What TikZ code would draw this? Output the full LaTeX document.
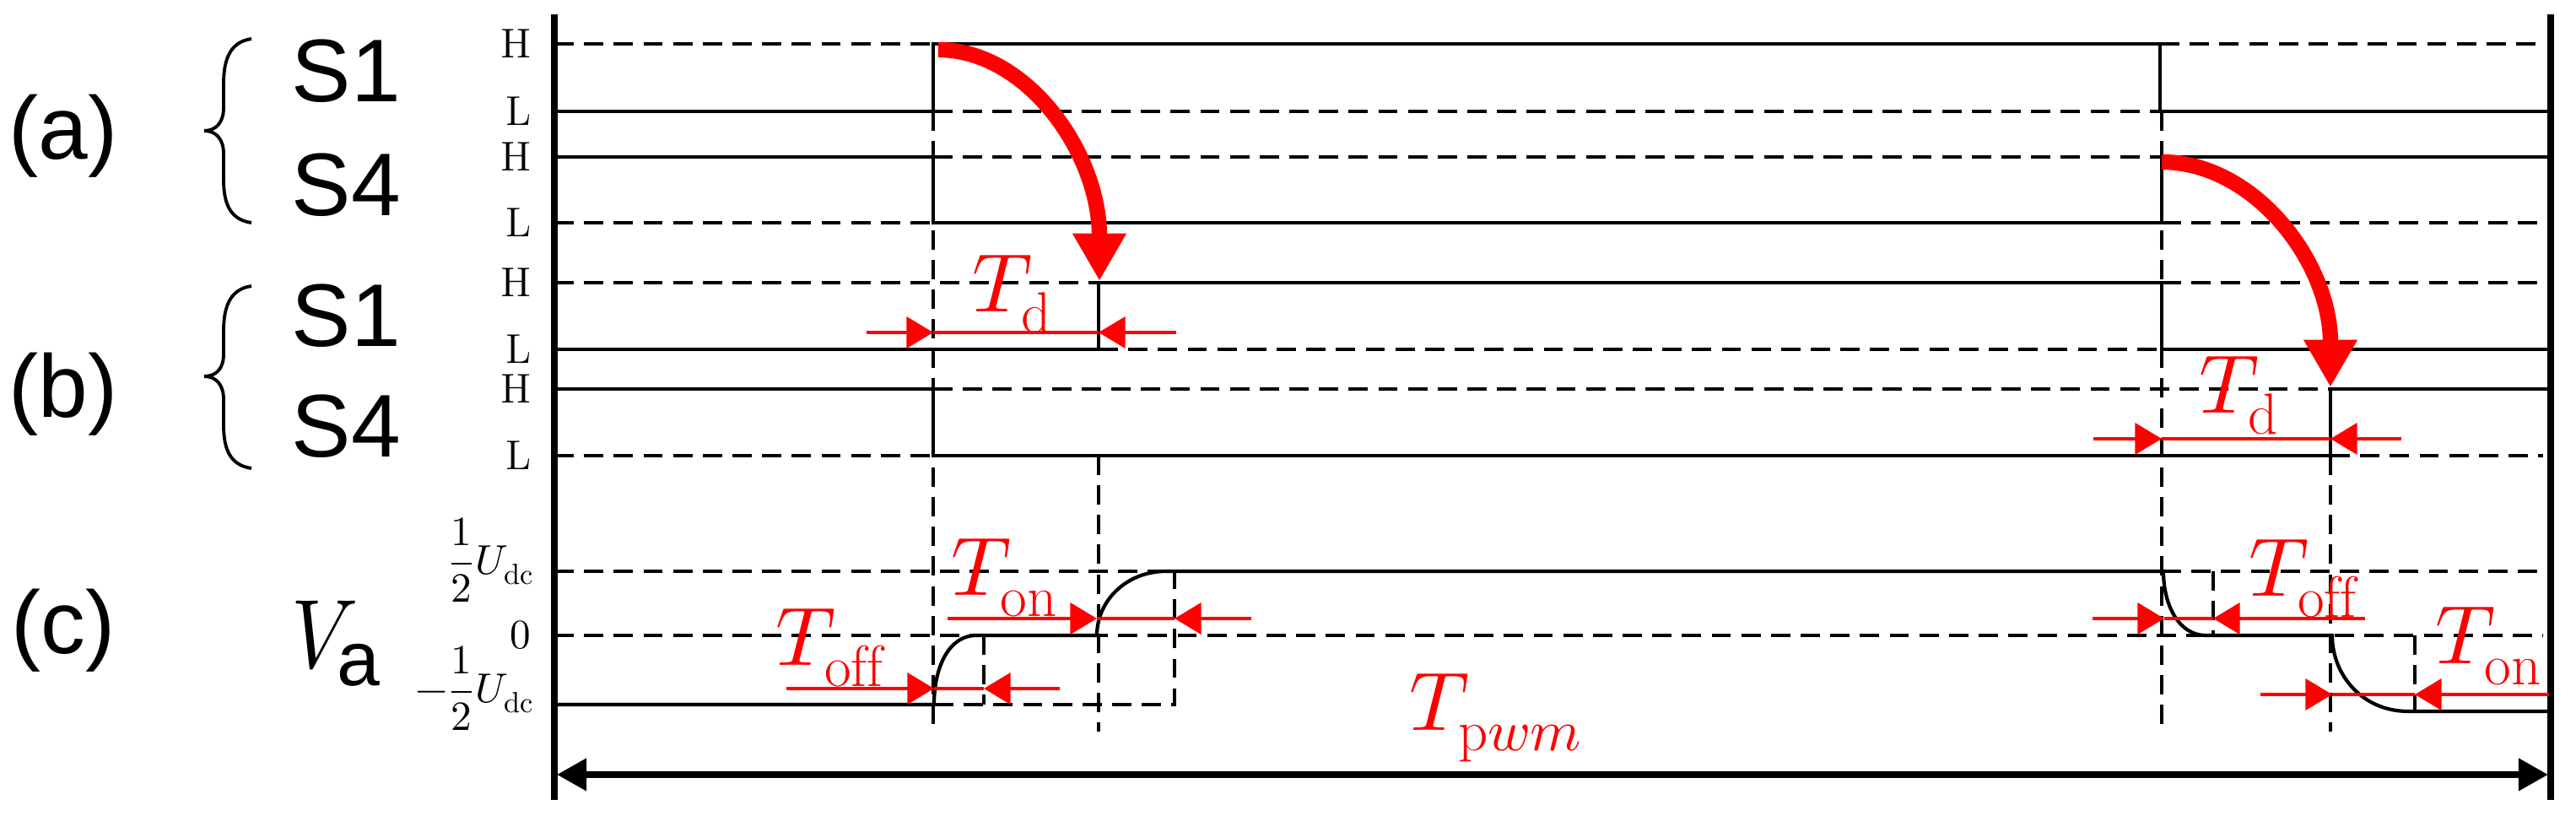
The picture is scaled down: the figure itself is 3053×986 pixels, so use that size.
\documentclass[tikz,border=0pt]{standalone}
\usepackage{fontspec}
\usepackage{amsmath}
\usepackage{unicode-math}
\usepackage{graphicx}
\setmathfont{Latin Modern Math}
\newfontfamily\arialfont{Liberation Sans}
\usetikzlibrary{arrows.meta}
\newcommand\lvsize{\fontsize{14}{16}\selectfont}
\newcommand\udsize{\fontsize{14}{16}\selectfont}
\tikzset{
  sig/.style={line width=1.2pt},
  grid/.style={line width=0.9pt, dash pattern=on 6.5pt off 3.5pt},
  bigarrow/.style={red, line width=5.2pt, -{Triangle[length=16pt,width=17pt]}},
  dim/.style={red, line width=1.2pt, -{Triangle[length=9pt,width=10.5pt]}},
  dimline/.style={red, line width=1.2pt},
  lvl/.style={anchor=east, inner sep=0pt},
  tlab/.style={red, font=\fontsize{28}{32}\selectfont, inner sep=0pt},
  sw/.style={font=\arialfont\fontsize{30}{34}\selectfont, inner sep=0pt},
  brace/.style={line width=1.1pt},
}
\begin{document}
\begin{tikzpicture}[x=0.01cm, y=-0.01cm]
\useasboundingbox (0,0) rectangle (3053,986);

\node[sw] (la) at (75,161){(a)};
\node[sw] (lb) at (75,467){(b)};
\node[sw] (lc) at (75,747){(c)};
\node[sw, anchor=west] (s1a) at (345,84){S1};
\node[sw, anchor=west] (s4a) at (345,219){S4};
\node[sw, anchor=west] (s1b) at (345,374){S1};
\node[sw, anchor=west] (s4b) at (345,505){S4};
\node[anchor=west, inner sep=0pt] (va) at (345,763){\fontsize{33}{36}\selectfont\scalebox{0.85}[1]{$V$}\kern-7pt\raisebox{-6pt}{\arialfont\fontsize{26}{30}\selectfont a}};

\draw[brace] (298,46) .. controls (270,50) and (265,75) .. (265,100) -- (265,128) .. controls (265,145) and (256,155) .. (242,155) .. controls (256,155) and (265,165) .. (265,182) -- (265,212) .. controls (265,237) and (270,260) .. (298,264);
\draw[brace] (298,339) .. controls (270,343) and (265,368) .. (265,393) -- (265,420) .. controls (265,437) and (256,446) .. (242,446) .. controls (256,446) and (265,456) .. (265,473) -- (265,503) .. controls (265,528) and (270,551) .. (298,555);

\node[lvl] (h1) at (630,52){\lvsize H};
\node[lvl] (l1) at (630,132){\lvsize L};
\node[lvl] (h2) at (630,186){\lvsize H};
\node[lvl] (l2) at (630,264){\lvsize L};
\node[lvl] (h3) at (630,335){\lvsize H};
\node[lvl] (l3) at (630,414){\lvsize L};
\node[lvl] (h4) at (630,461){\lvsize H};
\node[lvl] (l4) at (630,540){\lvsize L};
\node[lvl] (up) at (634,664){\udsize$\displaystyle\frac{1}{2}U_{\mathrm{dc}}$};
\node[lvl] (zero) at (630,753){\udsize$0$};
\node[lvl] (dn) at (634,816){\udsize$\displaystyle-\frac{1}{2}U_{\mathrm{dc}}$};

\draw[line width=2.3pt] (657,17) -- (657,948);
\draw[line width=2.3pt] (3023,17) -- (3023,948);

\draw[grid] (657,52) -- (1106,52);
\draw[grid] (1106,132) -- (2560,132);
\draw[grid] (2560,52) -- (3014,52);
\draw[sig] (657,132) -- (1106,132) -- (1106,52) -- (2560,52) -- (2560,132) -- (3023,132);

\draw[grid] (657,264) -- (1106,264);
\draw[grid] (1106,186) -- (2562,186);
\draw[grid] (2562,264) -- (3014,264);
\draw[sig] (657,186) -- (1106,186) -- (1106,264) -- (2562,264) -- (2562,186) -- (3023,186);

\draw[grid] (657,335) -- (1302,335);
\draw[grid] (1302,414) -- (2562,414);
\draw[grid] (2562,335) -- (3014,335);
\draw[sig] (657,414) -- (1302,414) -- (1302,335) -- (2562,335) -- (2562,414) -- (3023,414);

\draw[grid] (657,540) -- (1106,540);
\draw[grid] (1106,461) -- (2762,461);
\draw[grid] (2762,540) -- (3014,540);
\draw[sig] (657,461) -- (1106,461) -- (1106,540) -- (2762,540) -- (2762,461) -- (3023,461);

\draw[grid] (657,677) -- (1382,677);
\draw[grid] (2562,677) -- (3014,677);
\draw[grid] (657,753) -- (3014,753);
\draw[grid] (1107,835) -- (1392,835) -- (1392,677);
\draw[grid] (1166,753) -- (1166,835);
\draw[grid] (2623,677) -- (2623,753);
\draw[grid] (2862,753) -- (2862,843);
\draw[sig] (657,835) -- (1107,835) .. controls (1107,790) and (1125,753) .. (1157,753) -- (1300,753) .. controls (1300,712) and (1335,677) .. (1382,677) -- (2564,677) .. controls (2564,718) and (2583,753) .. (2614,753) -- (2764,753) .. controls (2764,800) and (2800,843) .. (2854,843) -- (3023,843);

\draw[grid] (1106,132) -- (1106,867);
\draw[grid] (1302,540) -- (1302,867);
\draw[grid] (2562,132) -- (2562,867);
\draw[grid] (2762,540) -- (2762,867);

\draw[bigarrow] (1112,59) .. controls (1217,59) and (1303,181) .. (1303,333);
\draw[bigarrow] (2562,192) .. controls (2672,192) and (2762,311) .. (2762,459);

\coordinate (tda) at (1027,394);
\coordinate (tdb) at (1106,394);
\coordinate (tdc) at (1302,394);
\coordinate (tdd) at (1394,394);
\draw[dim] (tda) -- (tdb);
\draw[dimline] (tdb) -- (tdc);
\draw[dim] (tdd) -- (tdc);
\node[tlab] (td1) at (1200,349){$T_{\mathrm{d}}$};

\coordinate (tea) at (2481,520);
\coordinate (teb) at (2562,520);
\coordinate (tec) at (2762,520);
\coordinate (ted) at (2846,520);
\draw[dim] (tea) -- (teb);
\draw[dimline] (teb) -- (tec);
\draw[dim] (ted) -- (tec);
\node[tlab] (td2) at (2654,469){$T_{\mathrm{d}}$};

\coordinate (tfa) at (932,816);
\coordinate (tfb) at (1107,816);
\coordinate (tfc) at (1166,816);
\coordinate (tfd) at (1256,816);
\draw[dim] (tfa) -- (tfb);
\draw[dimline] (tfb) -- (tfc);
\draw[dim] (tfd) -- (tfc);
\node[tlab] (toff1) at (984,768){$T_{\mathrm{off}}$};

\coordinate (tna) at (1123,733);
\coordinate (tnb) at (1300,733);
\coordinate (tnc) at (1392,733);
\coordinate (tnd) at (1483,733);
\draw[dim] (tna) -- (tnb);
\draw[dimline] (tnb) -- (tnc);
\draw[dim] (tnd) -- (tnc);
\node[tlab] (ton1) at (1191,685){$T_{\mathrm{on}}$};

\coordinate (tga) at (2480,733);
\coordinate (tgb) at (2565,733);
\coordinate (tgc) at (2623,733);
\coordinate (tgd) at (2803,733);
\draw[dim] (tga) -- (tgb);
\draw[dimline] (tgb) -- (tgc);
\draw[dim] (tgd) -- (tgc);
\node[tlab] (toff2) at (2730,686){$T_{\mathrm{off}}$};

\coordinate (tma) at (2679,823);
\coordinate (tmb) at (2764,823);
\coordinate (tmc) at (2862,823);
\coordinate (tmd) at (3021,823);
\draw[dim] (tma) -- (tmb);
\draw[dimline] (tmb) -- (tmc);
\draw[dim] (tmd) -- (tmc);
\node[tlab] (ton2) at (2950,766){$T_{\mathrm{on}}$};

\coordinate (pl) at (660,918);
\coordinate (pr) at (3020,918);
\draw[line width=2.3pt, {Triangle[length=10pt,width=10.5pt]}-{Triangle[length=10pt,width=10.5pt]}] (pl) -- (pr);
\node[tlab] (tpwm) at (1773,851){$T_{\mathrm{p}wm}$};

\end{tikzpicture}
\end{document}
